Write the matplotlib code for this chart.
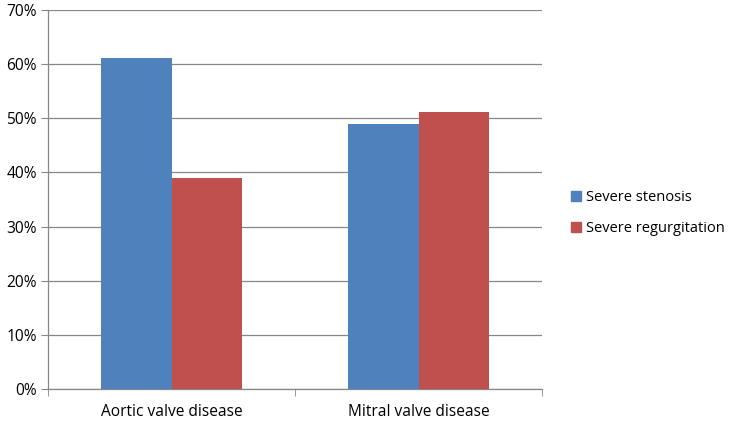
import matplotlib
matplotlib.use("Agg")
import matplotlib.pyplot as plt
import numpy as np
from matplotlib.patches import Patch

categories = ["Aortic valve disease", "Mitral valve disease"]
stenosis = [61.1, 48.9]
regurgitation = [38.9, 51.1]
yticks = [0, 10, 20, 30, 40, 50, 60, 70]

plt.rcParams["font.family"] = ["Open Sans", "DejaVu Sans"]
FS = 11.2

fig = plt.figure(figsize=(7.31, 4.23), dpi=100)
ax = fig.add_axes([48 / 731, 1 - 389 / 423, 494 / 731, 379 / 423])

x = np.arange(len(categories))
w = 0.287
ax.bar(x - w / 2, stenosis, w, color="#4F81BD", zorder=3)
ax.bar(x + w / 2, regurgitation, w, color="#C0504D", zorder=3)

ax.set_xlim(-0.5, 1.5)
ax.set_ylim(0, 70)
ax.set_yticks(yticks)
ax.set_yticklabels([f"{v}%" for v in yticks], fontsize=FS)
ax.yaxis.grid(True, color="#878787", lw=0.9, zorder=0)
ax.tick_params(axis="y", length=5, color="#878787", pad=3)

ax.set_xticks(x)
ax.set_xticklabels(categories, fontsize=FS)
ax.tick_params(axis="x", length=0, pad=11)
ax.set_xticks([-0.5, 0.5, 1.5], minor=True)
ax.tick_params(axis="x", which="minor", length=5, color="#878787")

for s in ["top", "right"]:
    ax.spines[s].set_visible(False)
for s in ["left", "bottom"]:
    ax.spines[s].set_color("#878787")
    ax.spines[s].set_linewidth(0.9)

handles = [Patch(color="#4F81BD", label="Severe stenosis"),
           Patch(color="#C0504D", label="Severe regurgitation")]
fig.legend(handles=handles, loc="center left", bbox_to_anchor=(558 / 731, 1 - 213 / 423),
           frameon=False, fontsize=10.5, handlelength=0.7, handleheight=0.7,
           handletextpad=0.3, labelspacing=1.1)

fig.savefig("out.png", dpi=100)
